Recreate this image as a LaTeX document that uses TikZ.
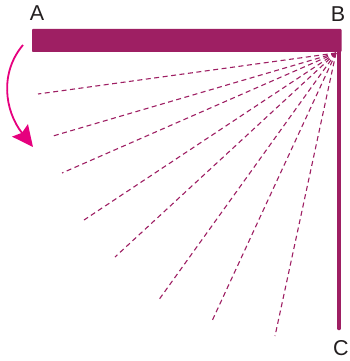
\documentclass[tikz,border=0pt]{standalone}
\usepackage{fontspec}
\setmainfont{Liberation Sans}
\usetikzlibrary{arrows.meta}
\definecolor{rod}{HTML}{9E1F63}
\definecolor{pinkarrow}{HTML}{E6007E}
\definecolor{txt}{HTML}{231F20}
\begin{document}
\begin{tikzpicture}[x=1pt,y=-1pt,
  lbl/.style={font=\fontsize{21.5}{25}\selectfont, text=txt, inner sep=0pt},
  ray/.style={draw=rod, line width=1.1pt, dash pattern=on 5pt off 3.5pt},
  rodline/.style={draw=rod, line width=4.6pt, line cap=round}]
\useasboundingbox (0,0) rectangle (350,361);
% bar
\fill[rod, rounded corners=0.8pt] (32,29) rectangle (341.5,52);
% vertical rod
\coordinate (rt) at (339,50);
\coordinate (rb) at (339,328);
\draw[rodline] (rt) -- (rb);
% pivot and ray ends
\coordinate (P) at (336,53);
\foreach \n/\x/\y in {1/38/94, 2/53/136, 3/62/173, 4/84/220, 5/115/257, 6/158/301, 7/212/321, 8/275/336}{
  \coordinate (e\n) at (\x,\y);
  \draw[ray] (P) -- (e\n);
}
% labels
\node[lbl] (A) at (37,13) {A};
\node[lbl] (B) at (338,14) {B};
\node[lbl] (C) at (341,348) {C};
% curved arrow
\coordinate (as) at (23,45);
\coordinate (ae) at (33,147);
\draw[pinkarrow, line width=1.8pt, -{Stealth[length=21pt,width=20pt,inset=3pt]}]
  (as) .. controls (0,72) and (4,110) .. (ae);
\end{tikzpicture}
\end{document}
